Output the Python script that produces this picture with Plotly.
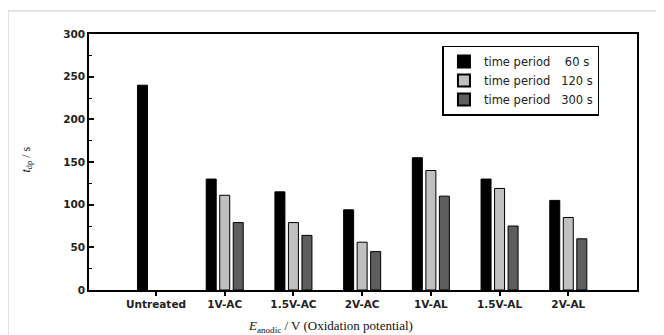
import plotly.graph_objects as go

categories = ["Untreated", "1V-AC", "1.5V-AC", "2V-AC", "1V-AL", "1.5V-AL", "2V-AL"]
t60 = [240, 130, 115, 94, 155, 130, 105]
t120 = [None, 111, 79, 56, 140, 119, 85]
t300 = [None, 79, 64, 45, 110, 75, 60]
series_names = ["time period\u00a0\u00a0\u00a0\u00a060 s",
                "time period\u00a0\u00a0\u00a0120 s",
                "time period\u00a0\u00a0\u00a0300 s"]
series_colors = ["#000000", "#c0c0c0", "#5e5e5e"]
y_ticks = [0, 50, 100, 150, 200, 250, 300]

fig = go.Figure()
for name, vals, col in zip(series_names, [t60, t120, t300], series_colors):
    fig.add_trace(go.Bar(
        x=categories, y=vals, name=name,
        marker=dict(color=col, line=dict(color="#000000", width=1)),
    ))

tickfont = dict(family="DejaVu Sans", size=10.5, color="#222222", weight="bold")

# page has an 8px body margin: figure is placed at (8, 8)
fig.update_layout(
    width=656, height=327,
    margin=dict(l=81, r=27, t=26, b=45),
    paper_bgcolor="white", plot_bgcolor="white",
    barmode="group", bargap=0.41, bargroupgap=0.26,
    showlegend=True,
    legend=dict(
        x=0.645, y=0.955, xanchor="left", yanchor="top",
        bordercolor="#000000", borderwidth=1.5, bgcolor="white",
        font=dict(family="DejaVu Sans", size=11.5, color="#222222"),
        tracegroupgap=0, itemsizing="constant",
    ),
    xaxis=dict(
        type="category", range=[-0.975, 7.0],
        showline=True, linecolor="#000000", linewidth=1.5, mirror=True,
        ticks="outside", ticklen=4, tickcolor="#000000", tickwidth=1.5,
        tickfont=tickfont, showgrid=False, zeroline=False,
    ),
    yaxis=dict(
        range=[0, 300], tickvals=y_ticks,
        showline=True, linecolor="#000000", linewidth=1.5, mirror=True,
        ticks="inside", ticklen=5, tickcolor="#000000", tickwidth=1.5,
        minor=dict(dtick=25, ticks="inside", ticklen=3, tickcolor="#000000", tickwidth=1),
        tickfont=tickfont, showgrid=False, zeroline=False,
    ),
    font=dict(family="DejaVu Sans"),
)

fig.add_shape(type="rect", xref="paper", yref="paper",
              x0=-0.1478, x1=1.2, y0=-0.3, y1=1.0898,
              line=dict(color="#c8c8c8", width=1), layer="below")

fig.add_annotation(
    xref="paper", yref="paper", x=0.44, y=-0.1, xanchor="center", yanchor="top",
    text="<i>E</i><sub>anodic</sub> / V (Oxidation potential)", showarrow=False,
    font=dict(family="Liberation Serif", size=13, color="#111111"),
)
fig.add_annotation(
    xref="paper", yref="paper", x=-0.113, y=0.51, xanchor="center", yanchor="middle",
    text="<i>t</i><sub>dp</sub> / s", showarrow=False, textangle=-90,
    font=dict(family="Liberation Serif", size=12, color="#111111"),
)

fig.write_html("out.html")
